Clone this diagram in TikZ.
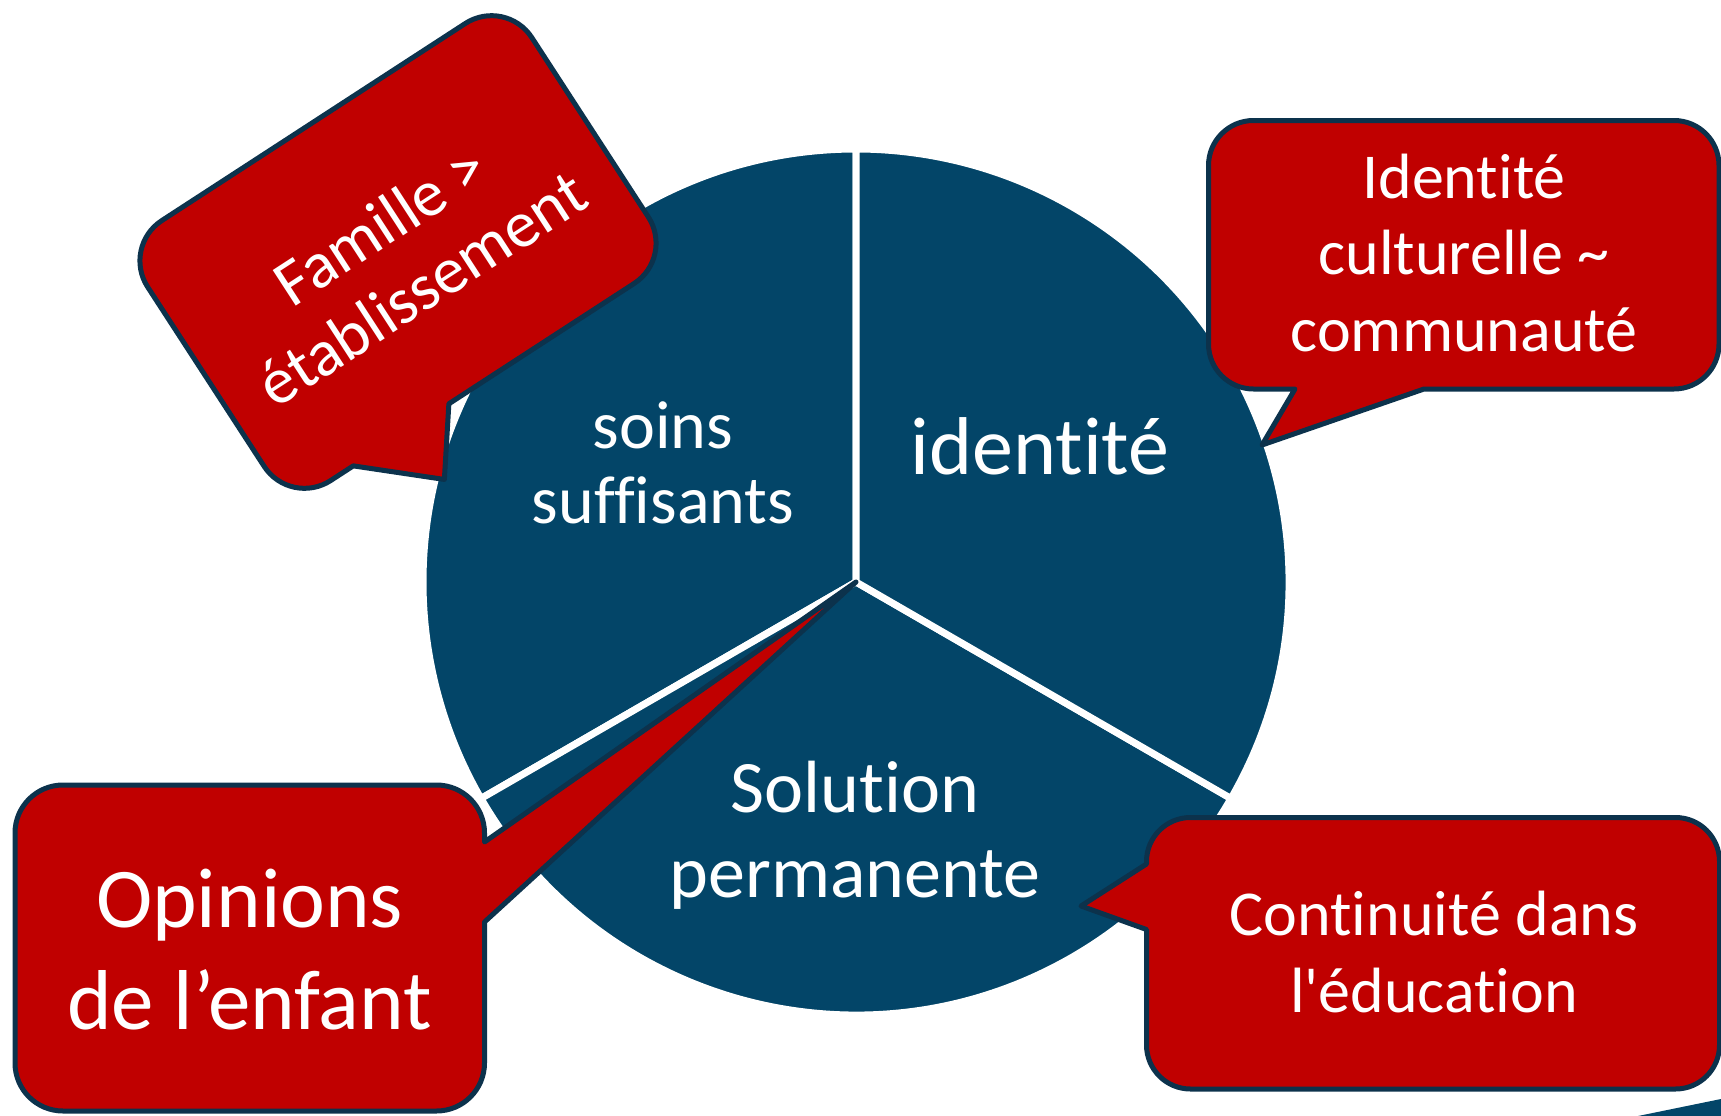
\documentclass[tikz,border=0pt]{standalone}
\usepackage{fontspec}
\setmainfont{Carlito}[Ligatures={TeX,NoCommon}]
\definecolor{bleupie}{RGB}{3,69,104}
\definecolor{rougebulle}{RGB}{192,0,0}
\definecolor{bordbulle}{RGB}{12,50,76}

\begin{document}
\begin{tikzpicture}[x=1pt,y=1pt]
\tikzset{secteur/.style={fill=bleupie, draw=white, line width=7pt},
  bulle/.style={fill=rougebulle, draw=bordbulle, line width=5pt, line join=round},
  texte/.style={text=white, align=center, inner sep=0pt}}
\useasboundingbox (0,0) rectangle (1721,-1116);
\clip (0,0) rectangle (1721,-1116);
\coordinate (centre) at (856,-582);
\foreach \a in {90,210,330}
  \draw[secteur] (centre) -- ++(\a:433) arc[start angle=\a, delta angle=120, radius=433] -- cycle;
\fill[bleupie] (1638,-1116) -- (1721,-1099) -- (1721,-1116) -- cycle;
\node[texte, font=\fontsize{68}{75}\selectfont] (soins) at (663,-462.5) {soins\\suffisants};
\node[texte, font=\fontsize{82}{98}\selectfont] (identite) at (1040,-446.7) {identité};
\node[texte, font=\fontsize{74}{85}\selectfont] (solution) at (855,-835) {Solution\\permanente};
\begin{scope}[shift={(398,-252)}, rotate=33]
\draw[bulle] (-181,155) -- (181,155) arc[start angle=90, end angle=0, radius=48] -- (229,-107) arc[start angle=0, end angle=-90, radius=48] -- (-40,-155) -- (-85,-216) -- (-154,-155) -- (-181,-155) arc[start angle=-90, end angle=-180, radius=48] -- (-229,107) arc[start angle=180, end angle=90, radius=48] -- cycle;
\node[texte, transform shape, font=\fontsize{66}{76}\selectfont] (famille) at (0,-5) {Famille >\\établissement};
\end{scope}
\draw[bulle] (1253.5,-120.5) -- (1674,-120.5) arc[start angle=90, end angle=0, radius=45] -- (1719,-344) arc[start angle=0, end angle=-90, radius=45] -- (1424,-389) -- (1262,-445) -- (1295,-389) -- (1253.5,-389) arc[start angle=-90, end angle=-180, radius=45] -- (1208.5,-165.5) arc[start angle=180, end angle=90, radius=45] -- cycle;
\node[texte, font=\fontsize{64}{76.5}\selectfont] (culture) at (1464,-253) {Identité\\culturelle \textasciitilde\\communauté};
\draw[bulle] (63,-785) -- (436.5,-785) arc[start angle=90, end angle=0, radius=48] -- (484.5,-842) -- (centre) -- (484.5,-922) -- (484.5,-1063) arc[start angle=0, end angle=-90, radius=48] -- (63,-1111) arc[start angle=-90, end angle=-180, radius=48] -- (15,-833) arc[start angle=180, end angle=90, radius=48] -- cycle;
\node[texte, font=\fontsize{85}{102}\selectfont] (opinions) at (249.7,-950) {Opinions\\de l’enfant};
\draw[bulle] (1190.5,-817.5) -- (1675.5,-817.5) arc[start angle=90, end angle=0, radius=44] -- (1719.5,-1045) arc[start angle=0, end angle=-90, radius=44] -- (1190.5,-1089) arc[start angle=-90, end angle=-180, radius=44] -- (1146.5,-929.5) -- (1081,-906) -- (1146.5,-864) -- (1146.5,-861.5) arc[start angle=180, end angle=90, radius=44] -- cycle;
\node[texte, font=\fontsize{64}{76.5}\selectfont] (continuite) at (1434,-952) {Continuité dans\\l\textquotesingle éducation};
\end{tikzpicture}
\end{document}
